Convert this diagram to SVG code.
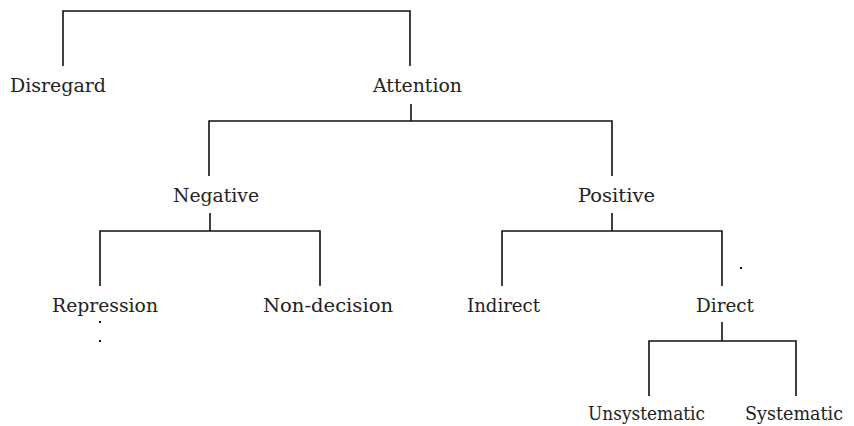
<svg xmlns="http://www.w3.org/2000/svg" width="854" height="426" viewBox="0 0 854 426">
<style>
.t{font-family:"DejaVu Serif","Liberation Serif",serif;font-size:19px;fill:#222;text-anchor:middle}
.c{fill:none;stroke:#111;stroke-width:1.6}
</style>
<rect width="854" height="426" fill="#fff"/>
<g id="connectors" class="c">
<path d="M63,66 V11 H410 V66"/>
<path d="M411,104 V121"/>
<path d="M209,176 V121 H612 V176"/>
<path d="M210,213 V231"/>
<path d="M100,286 V231 H320 V286"/>
<path d="M612,213 V231"/>
<path d="M502,286 V231 H722 V286"/>
<path d="M722,322 V341"/>
<path d="M649,396 V341 H796 V396"/>
</g>
<g id="disregard"><text class="t" x="58" y="92" textLength="96" lengthAdjust="spacingAndGlyphs">Disregard</text></g>
<g id="attention"><text class="t" x="417.5" y="92" textLength="89" lengthAdjust="spacingAndGlyphs">Attention</text></g>
<g id="negative"><text class="t" x="216" y="202" textLength="86" lengthAdjust="spacingAndGlyphs">Negative</text></g>
<g id="positive"><text class="t" x="616.5" y="202" textLength="77" lengthAdjust="spacingAndGlyphs">Positive</text></g>
<g id="repression"><text class="t" x="105" y="312" textLength="106" lengthAdjust="spacingAndGlyphs">Repression</text></g>
<g id="nondecision"><text class="t" x="328" y="312" textLength="130" lengthAdjust="spacingAndGlyphs">Non-decision</text></g>
<g id="indirect"><text class="t" x="503.5" y="312" textLength="73" lengthAdjust="spacingAndGlyphs">Indirect</text></g>
<g id="direct"><text class="t" x="725" y="312" textLength="58" lengthAdjust="spacingAndGlyphs">Direct</text></g>
<g id="unsystematic"><text class="t" x="646.5" y="420" textLength="117" lengthAdjust="spacingAndGlyphs">Unsystematic</text></g>
<g id="systematic"><text class="t" x="794" y="420" textLength="98" lengthAdjust="spacingAndGlyphs">Systematic</text></g>
<g id="specks" fill="#111">
<rect x="99" y="321" width="2" height="2"/>
<rect x="99" y="340" width="2" height="2"/>
<rect x="740" y="267" width="2" height="2"/>
</g>
</svg>
